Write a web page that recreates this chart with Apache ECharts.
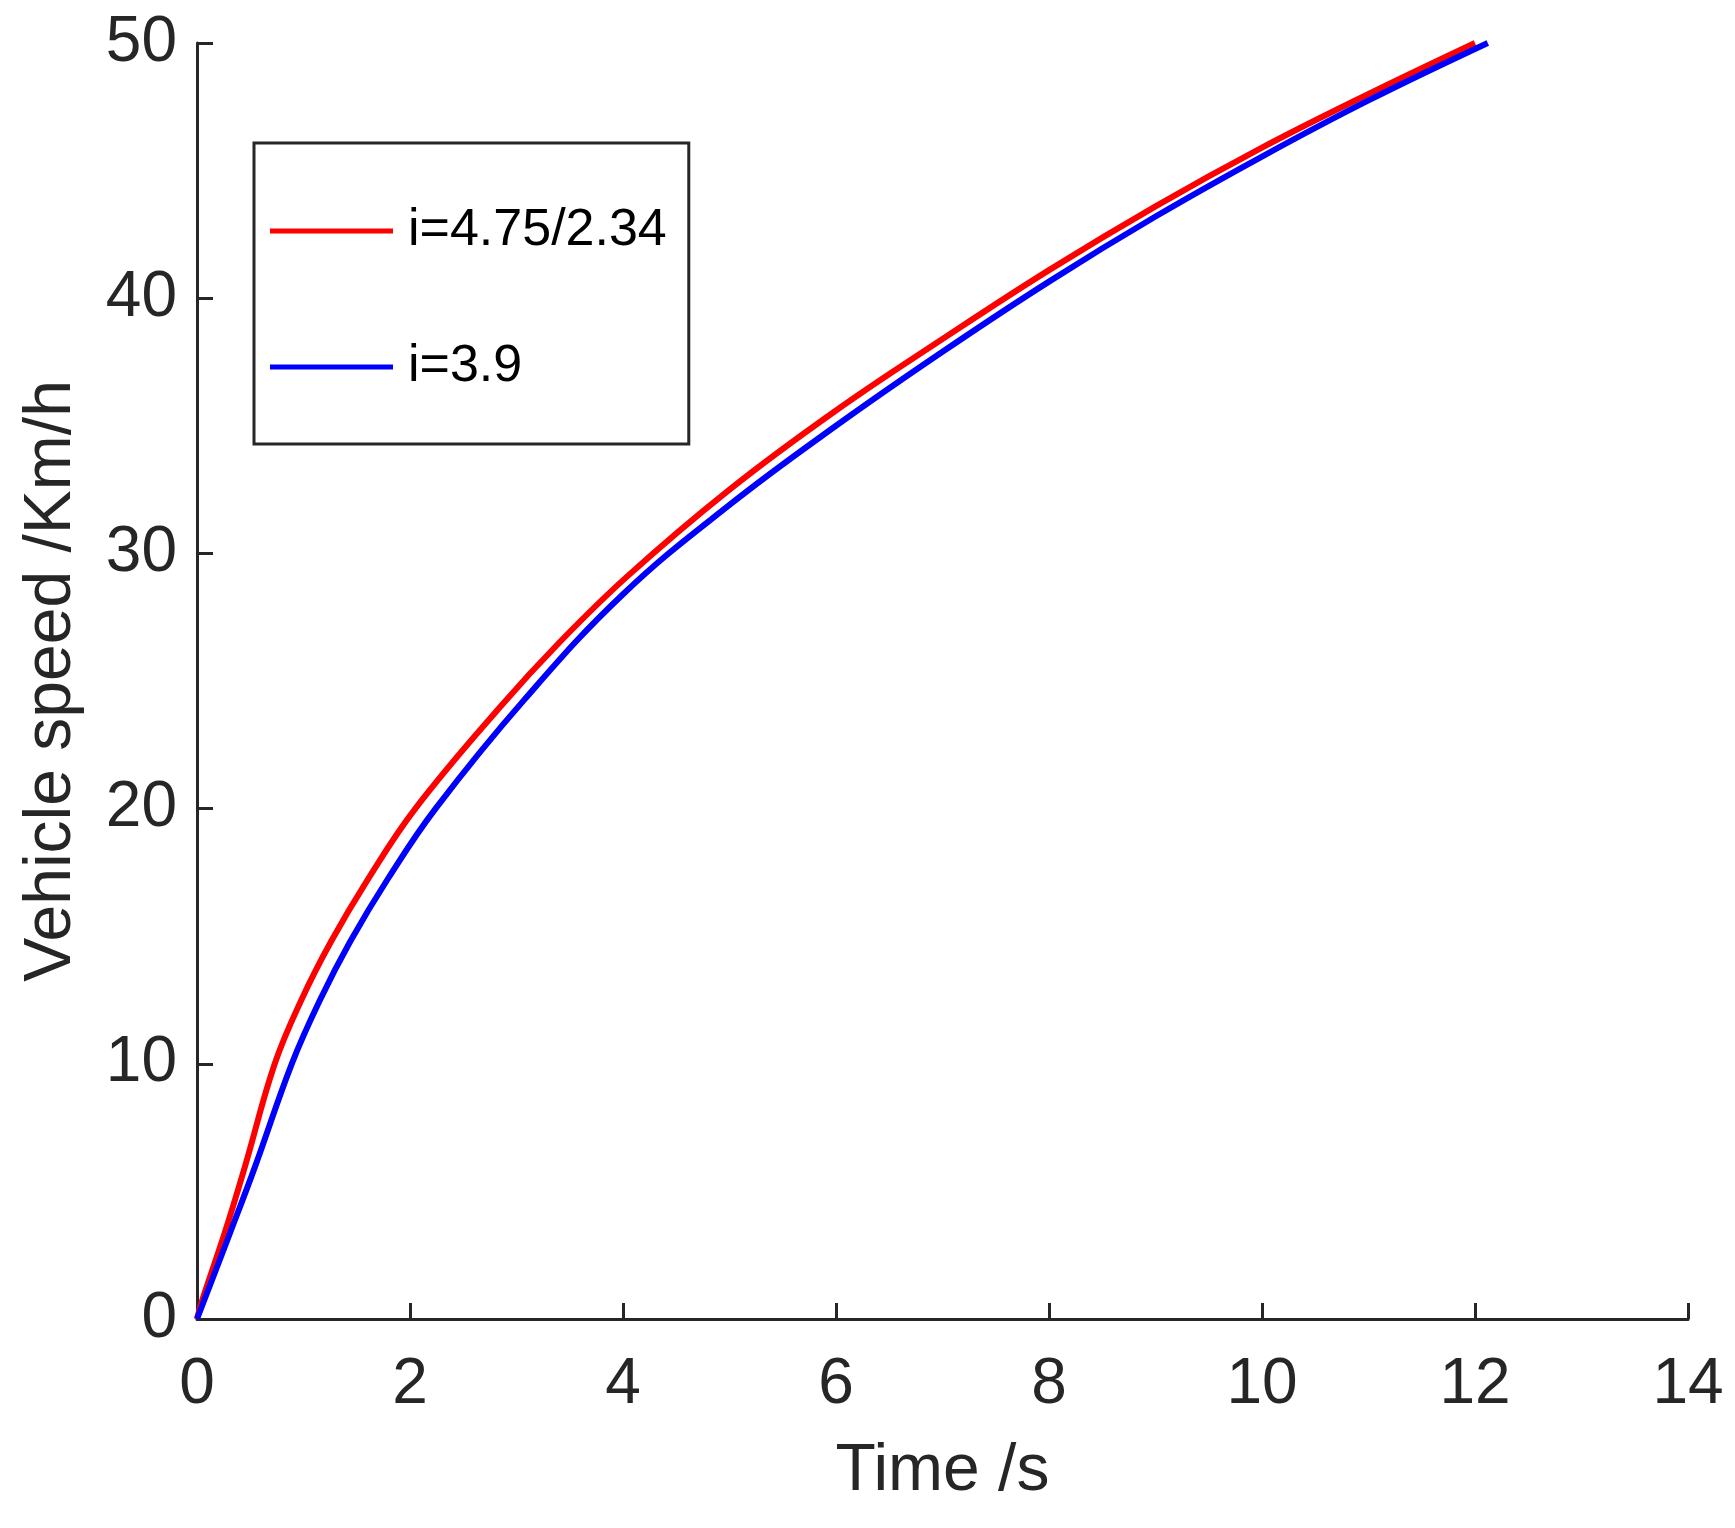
<!DOCTYPE html>
<html>
<head>
<meta charset="utf-8">
<title>Vehicle speed</title>
<script src="https://cdn.jsdelivr.net/npm/echarts@6/dist/echarts.min.js"></script>
<style>
  html, body { margin: 0; padding: 0; background: #fff; }
  #chart { width: 1735px; height: 1528px; }
</style>
</head>
<body>
<div id="chart"></div>
<script>
const SERIES_NAMES = ["i=4.75/2.34", "i=3.9"];

// i=4.75/2.34 (red)
const RED_TIME = [0, 0.05, 0.26, 0.45, 0.73, 0.98, 1.26, 1.6, 2.05, 2.85, 3.4, 4.04, 5.0, 6.0, 7.0, 8.0, 9.0, 10.0, 11.0, 12.0];
const RED_SPEED = [0, 0.75, 3.37, 5.97, 10, 12.5, 14.8, 17.2, 20, 24.0, 26.5, 29.1, 32.5, 35.6, 38.4, 41.1, 43.6, 45.9, 48.0, 50];

// i=3.9 (blue)
const BLUE_TIME = [0, 0.31, 0.545, 0.89, 1.155, 1.44, 1.8, 2.24, 3.07, 4.0, 5.0, 6.0, 7.0, 8.0, 9.0, 10.0, 11.0, 12.12];
const BLUE_SPEED = [0, 3.37, 5.97, 10, 12.5, 14.8, 17.3, 20, 24.25, 28.4, 31.9, 35.0, 37.9, 40.65, 43.2, 45.55, 47.75, 50];

const X_TICKS = [0, 2, 4, 6, 8, 10, 12, 14];
const Y_TICKS = [0, 10, 20, 30, 40, 50];

const FONT = "'Liberation Sans', Arial, Helvetica, sans-serif";
const AXIS_COLOR = "#262626";

function pairs(xs, ys) {
  return xs.map((x, i) => [x, ys[i]]);
}

function axisBase() {
  return {
    type: "value",
    splitLine: { show: false },
    axisLine: { show: true, lineStyle: { color: AXIS_COLOR, width: 3 } },
    axisTick: { show: true, inside: true, length: 16, lineStyle: { color: AXIS_COLOR, width: 3 } },
    nameLocation: "middle",
    nameTextStyle: { fontFamily: FONT, fontSize: 66, color: AXIS_COLOR }
  };
}

function lineSeries(name, data, color) {
  return {
    name,
    type: "line",
    data,
    showSymbol: false,
    smooth: 0.4,
    lineStyle: { color, width: 6 },
    itemStyle: { color }
  };
}

const chart = echarts.init(document.getElementById("chart"), null, { renderer: "canvas" });

chart.setOption({
  animation: false,
  backgroundColor: "#fff",
  grid: { left: 197, right: 47, top: 43, bottom: 209, containLabel: false },
  legend: {
    data: SERIES_NAMES,
    orient: "vertical",
    left: 254,
    top: 143,
    padding: [62, 22, 51, 16],
    borderColor: AXIS_COLOR,
    borderWidth: 3,
    backgroundColor: "#fff",
    icon: "rect",
    itemWidth: 123,
    itemHeight: 5,
    itemGap: 84,
    textStyle: { fontFamily: FONT, fontSize: 52, color: "#000", padding: [0, 0, 0, 10] }
  },
  xAxis: Object.assign(axisBase(), {
    min: X_TICKS[0],
    max: X_TICKS[X_TICKS.length - 1],
    interval: 2,
    name: "Time /s",
    nameGap: 120,
    axisLabel: { fontFamily: FONT, fontSize: 64, color: AXIS_COLOR, margin: 34 }
  }),
  yAxis: Object.assign(axisBase(), {
    min: Y_TICKS[0],
    max: Y_TICKS[Y_TICKS.length - 1],
    interval: 10,
    name: "Vehicle speed /Km/h",
    nameGap: 112,
    axisLabel: { fontFamily: FONT, fontSize: 64, color: AXIS_COLOR, margin: 20 }
  }),
  series: [
    lineSeries(SERIES_NAMES[0], pairs(RED_TIME, RED_SPEED), "#ff0000"),
    lineSeries(SERIES_NAMES[1], pairs(BLUE_TIME, BLUE_SPEED), "#0000ff")
  ]
});
</script>
</body>
</html>
